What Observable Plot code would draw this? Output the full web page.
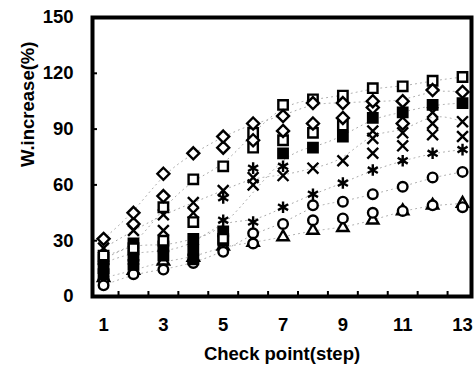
<!DOCTYPE html>
<html><head><meta charset="utf-8">
<script src="https://cdn.jsdelivr.net/npm/d3@7"></script>
<script src="https://cdn.jsdelivr.net/npm/@observablehq/plot@0.6"></script>
<style>
body{margin:0;background:#fff}
#chart svg{display:block}
</style>
</head><body><div id="chart"></div>
<script>
// ---- data ----
const steps = [1,2,3,4,5,6,7,8,9,10,11,12,13];
const xTickLabels = [1,3,5,7,9,11,13];
const xMinorTicks = [1.5,2.5,3.5,4.5,5.5,6.5,7.5,8.5,9.5,10.5,11.5,12.5];
const yTickValues = [0,30,60,90,120,150];
const yTitle = "W.increase(%)";
const xTitle = "Check point(step)";

const openSquare1  = [22,26,48,63,70,88,103,106,108,112,113,116,118];
const openSquare2  = [null,null,30,40,31,80,84,88,92,null,null,null,null];
const openDiamond1 = [31,45,66,77,86,93,97,104,104,105,105,111,110];
const openDiamond2 = [null,39,54,null,80,84,89,93,96,101.6,93,null,null];
const filledSquare1 = [20,28.5,27,31,35,null,77,80,86,96,99,103,104];
const filledSquare2 = [16,22,22,25,30,null,null,null,null,null,null,null,null];
const filledSquare3 = [12,17,null,20,null,null,null,null,null,null,null,null,null];
const cross1 = [26,35.5,44,50.5,57,64,65,69,73,89,88,99,94];
const cross2 = [15,20,35.5,45,null,60,null,null,null,85,81,93,86];
const cross3 = [null,null,null,null,null,null,null,null,null,77,null,87,null];
const asterisk1 = [18,24,24,28,41,40,48,55,61,68,73,77,79];
const asterisk2 = [null,null,null,null,53,69,70,null,null,null,null,null,null];
const circle1 = [6,12,14.5,18,24,34,39,49,51,55,59,64,67];
const circle2 = [9,null,null,null,null,28.5,null,41,42,45,46,49,48];
const triangle1 = [10,14,19,21,27,29,32,35.5,37,41,46,49,50];

const seriesData = {openSquare1, openSquare2, openDiamond1, openDiamond2,
  filledSquare1, filledSquare2, filledSquare3, cross1, cross2, cross3,
  asterisk1, asterisk2, circle1, circle2, triangle1};

// ---- styles (separate from data) ----
const styleOf = {
  triangle1:   {symbol:"triangle2", fill:"white", r:5.4},
  circle2:     {symbol:"circle", fill:"white", r:4.8},
  circle1:     {symbol:"circle", fill:"white", r:4.8},
  asterisk1:   {symbol:"asterisk", fill:"none", r:5.5},
  asterisk2:   {symbol:"asterisk", fill:"none", r:5.5},
  cross3:      {symbol:"times", fill:"none", r:5},
  cross2:      {symbol:"times", fill:"none", r:5},
  cross1:      {symbol:"times", fill:"none", r:5},
  filledSquare3:{symbol:"square", fill:"black", r:5.3},
  filledSquare2:{symbol:"square", fill:"black", r:5.3},
  filledSquare1:{symbol:"square", fill:"black", r:5.3},
  openSquare2: {symbol:"square2", fill:"white", r:6},
  openSquare1: {symbol:"square2", fill:"white", r:6},
  openDiamond2:{symbol:"diamond2", fill:"white", r:5.4},
  openDiamond1:{symbol:"diamond2", fill:"white", r:5.4}
};
const drawOrder = Object.keys(styleOf);
const trendSeries = ["openSquare1","openDiamond1","filledSquare1","cross1","asterisk1","circle1","triangle1"];

function rows(name){
  return steps.map((s,i)=>({step:s, value:seriesData[name][i], series:name}))
              .filter(d=>d.value!=null);
}

const marks = [];
for (const name of trendSeries) {
  marks.push(Plot.line(rows(name), {x:"step", y:"value", stroke:"#a8a8a8",
    strokeWidth:1, strokeDasharray:"1,4", curve:"basis"}));
}
for (const name of drawOrder) {
  const st = styleOf[name];
  marks.push(Plot.dot(rows(name), {x:"step", y:"value", symbol:()=>st.symbol,
    r:st.r, fill:st.fill, stroke:"black", strokeWidth:2.4}));
}

const fontFam = "'Liberation Sans', Arial, sans-serif";
const chart = Plot.plot({
  width:474, height:369,
  marginLeft:92, marginRight:3, marginTop:17, marginBottom:73,
  style:{fontFamily:fontFam, fontSize:"18.5px", fontWeight:"bold", color:"black", background:"white"},
  x:{domain:[0.63,13.3]},
  y:{domain:[0,150]},
  symbol:{type:"identity"},
  marks:[
    ...marks,
    Plot.axisY(yTickValues.filter(v=>v>0&&v<150), {tickSize:-5, tickFormat:()=>"" , label:null, strokeWidth:2}),
    Plot.axisY(yTickValues, {tickSize:0, tickPadding:19, label:null, fontSize:18.5}),
    Plot.axisX(xMinorTicks, {tickSize:-5, tickFormat:()=>"", label:null, strokeWidth:2}),
    Plot.axisX(xTickLabels, {tickSize:0, tickPadding:21, label:null, fontSize:18.5}),
    Plot.frame({stroke:"black", strokeWidth:4}),
    Plot.text([yTitle], {frameAnchor:"left", dx:-64, dy:10, rotate:-90, fontSize:18.5, text:d=>d}),
    Plot.text([xTitle], {frameAnchor:"bottom", dy:63, fontSize:18.5, text:d=>d})
  ]
});
document.getElementById("chart").appendChild(chart);
</script>
</body></html>
